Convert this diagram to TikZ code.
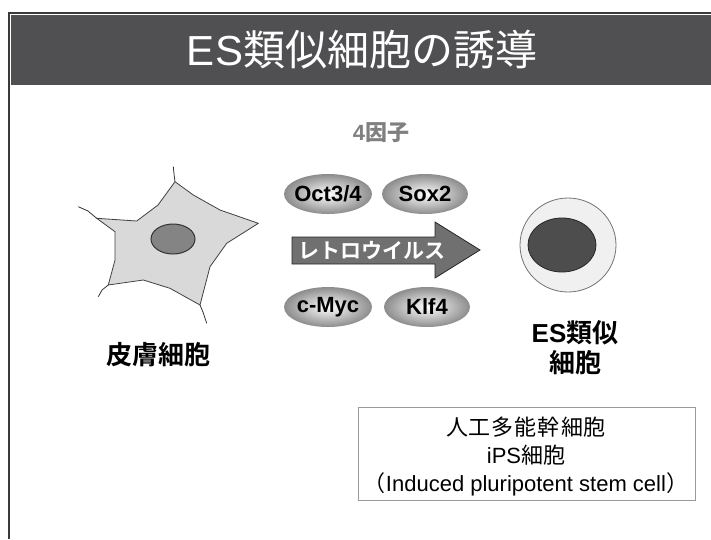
\documentclass[tikz,border=0pt]{standalone}
\usepackage{fontspec}
\setmainfont{Liberation Sans}
\newfontfamily\cjk{Noto Sans CJK JP}
\newfontfamily\cjkbf{Noto Sans CJK JP Bold}
\newfontfamily\cjkheavy{Noto Sans CJK JP Black}

\definecolor{bargray}{HTML}{505052}
\definecolor{framegray}{HTML}{3A3A3A}
\definecolor{labelgray}{HTML}{808080}
\definecolor{arrowgray}{HTML}{707070}
\definecolor{skingray}{HTML}{D9D9D9}
\definecolor{nucgray}{HTML}{848484}
\definecolor{esgray}{HTML}{F0F0F0}
\definecolor{esdark}{HTML}{4D4D4D}

\tikzset{
  factor/.style={inner color=white, outer color=black!45},
  factorlabel/.style={font=\fontsize{22}{22}\selectfont\bfseries},
  celllabel/.style={font=\fontsize{26}{30}\selectfont\bfseries, align=center},
  boxtext/.style={font=\fontsize{22}{28}\selectfont, align=center}
}

\begin{document}
\begin{tikzpicture}[x=1pt,y=-1pt]
  \tikzstyle{every node}+=[inner sep=0pt]
  \useasboundingbox (0,0) rectangle (711,539);

  % title bar and frame
  \fill [bargray] (11,15) rectangle (711,85);
  \draw [framegray, line width=2pt] (9,539) -- (9,13) -- (711,13);
  \node [white] (title) at (362,50) {\fontsize{42}{42}\selectfont ES{\cjk 類似細胞の誘導}};

  % skin cell
  \draw [black!75, fill=skingray, line width=0.8pt] (96.7,218.3) -- (136.7,221) -- (158,205) -- (175,181.7)
    -- (193.3,195) -- (220,210) -- (258.3,223.3) -- (226.7,243.3) -- (210,266.7) -- (200,305)
    -- (170,288.3) -- (143.3,280) -- (108.3,285) -- (115,260) -- (115,231.7) -- cycle;
  \draw [black!80, line width=0.8pt] (78.3,206.7) -- (88,211) -- (96.7,218.3);
  \draw [black!80, line width=0.8pt] (173.3,166.7) -- (174,174) -- (175,181.7);
  \draw [black!80, line width=0.8pt] (108.3,285) -- (102,290) -- (98.3,296.7);
  \draw [black!80, line width=0.8pt] (200,305) -- (203,312) -- (206.7,323.3);
  \draw [black!80, fill=nucgray, line width=1pt] (173,239) ellipse (22 and 15);
  \node [celllabel] (skin) at (158,355) {\cjkheavy 皮膚細胞};

  % four factors
  \node [labelgray, factorlabel] (four) at (381,133) {4{\cjkbf 因子}};
  \shade [factor] (328,194) ellipse (44 and 20);
  \node [factorlabel] (oct) at (328,194) {Oct3/4};
  \shade [factor] (425,194) ellipse (43 and 20);
  \node [factorlabel] (sox) at (425,194) {Sox2};
  \shade [factor] (328,307) ellipse (44 and 20);
  \node [factorlabel] (myc) at (328,307) {c-Myc};
  \shade [factor] (427,307) ellipse (43 and 20);
  \node [factorlabel] (klf) at (427,307) {Klf4};

  % retrovirus arrow
  \draw [black!85, fill=arrowgray, line width=0.8pt] (292,237) -- (435,237) -- (435,222) -- (480,250)
    -- (435,278) -- (435,264) -- (292,264) -- cycle;
  \node [white] (virus) at (372,251) {\fontsize{21}{21}\selectfont\cjkbf レトロウイルス};

  % ES-like cell
  \draw [black!55, fill=esgray, line width=0.8pt] (568,245) ellipse (48 and 47);
  \draw [black!85, fill=esdark, line width=0.8pt] (562,245) ellipse (34 and 27);
  \node [celllabel] (es) at (575,348) {ES{\cjkheavy 類似}\\{\cjkheavy 細胞}};

  % iPS box
  \draw [black!40, line width=0.8pt] (358,407) rectangle (695,500);
  \node [boxtext] (ips) at (526,457) {{\cjk 人\kern1pt工\kern1pt多\kern1pt能\kern1pt幹\kern1pt細\kern1pt胞}\\iPS{\cjk 細胞}\\{\cjk （}Induced pluripotent stem cell{\cjk ）}};
\end{tikzpicture}
\end{document}
